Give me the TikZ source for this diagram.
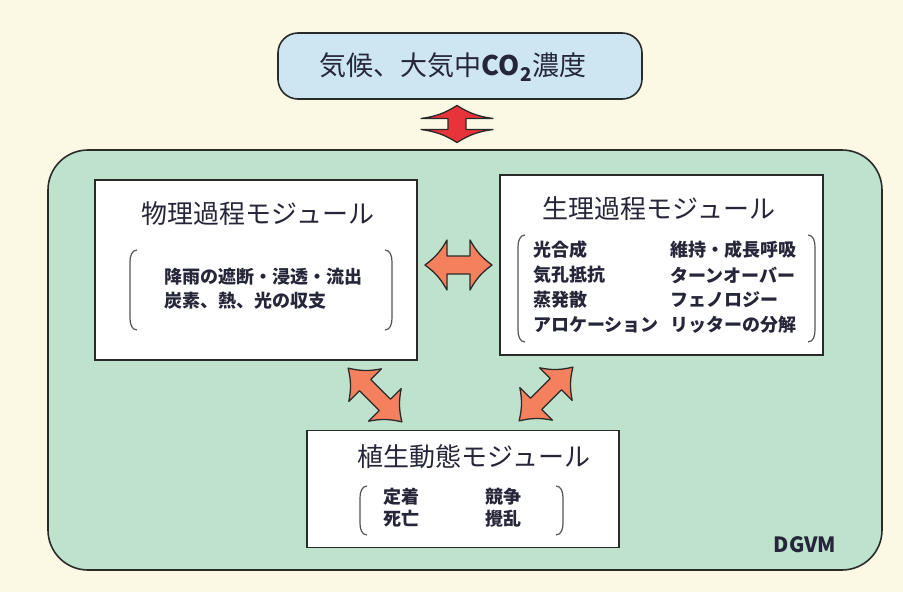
\documentclass[tikz,border=0pt]{standalone}
\usepackage{fontspec}
\newfontfamily\jp{Noto Sans CJK JP}
\usetikzlibrary{calc}
\definecolor{bgc}{HTML}{FBF8E4}
\definecolor{greenc}{HTML}{BEE2CB}
\definecolor{bluec}{HTML}{CDE6F1}
\definecolor{txtc}{HTML}{26263A}
\definecolor{redc}{HTML}{E8333A}
\definecolor{orangec}{HTML}{F5805E}
\definecolor{edgec}{HTML}{2A2A2A}
\newcommand\blockarrow[7]{%
  \begin{scope}[shift={#1},rotate=#2]
    \filldraw[fill=#7,draw=edgec,line width=1.3pt,line join=round]
      (-#3/2,0) to[bend left=12] (-#3/2+#6,#4) -- (-#3/2+#6,#5) -- (#3/2-#6,#5) -- (#3/2-#6,#4)
      to[bend left=12] (#3/2,0) to[bend left=12] (#3/2-#6,-#4) -- (#3/2-#6,-#5) -- (-#3/2+#6,-#5)
      -- (-#3/2+#6,-#4) to[bend left=12] cycle;
  \end{scope}}
\tikzset{
  modbox/.style={draw=edgec,line width=1.8pt,fill=white,inner sep=0pt},
  title/.style={font=\jp\fontsize{26}{30}\selectfont,text=txtc,inner sep=0pt},
  item/.style={font=\jp\bfseries\fontsize{18}{20}\selectfont,text=txtc,inner sep=0pt,anchor=west},
  brk/.style={draw=edgec!80,line width=1.2pt}
}
\newcommand\lbrk[3]{\draw[brk] (#1+7,#2) to[out=180,in=90] (#1,#2+12) -- (#1,#3-12) to[out=-90,in=180] (#1+7,#3);}
\newcommand\rbrk[3]{\draw[brk] (#1-7,#2) to[out=0,in=90] (#1,#2+12) -- (#1,#3-12) to[out=-90,in=0] (#1-7,#3);}
\begin{document}
\begin{tikzpicture}[x=1pt,y=-1pt]
\fill[bgc] (0,0) rectangle (903,592);
\useasboundingbox (0,0) rectangle (903,592);
% outer DGVM box
\node[draw=edgec,line width=1.6pt,fill=greenc,rounded corners=40pt,minimum width=834pt,minimum height=420pt,inner sep=0pt] (dgvm) at (465,360) {};
\node[font=\jp\bfseries\fontsize{21}{24}\selectfont,text=txtc,inner sep=0pt] (dgvmlab) at (805,545) {DGVM};
% top climate box
\node[draw=edgec,line width=1.6pt,fill=bluec,rounded corners=20pt,minimum width=364pt,minimum height=66pt,inner sep=0pt] (clim) at (460,66) {};
\node[font=\jp\fontsize{27}{30}\selectfont,text=txtc,inner sep=0pt] (climlab) at (453,67) {気候、大気中\textbf{CO\textsubscript{2}}濃度};
% modules
\node[modbox,minimum width=322pt,minimum height=180pt] (phys) at (256,270) {};
\node[title] (physt) at (258,214) {物理過程モジュール};
\lbrk{130}{250}{330}
\rbrk{392}{250}{330}
\node[item] (p1) at (164,277) {降雨の遮断・浸透・流出};
\node[item] (p2) at (164,301) {炭素、熱、光の収支};

\node[modbox,minimum width=323pt,minimum height=180pt] (bio) at (661.5,265) {};
\node[title] (biot) at (659,209) {生理過程モジュール};
\lbrk{518}{235}{342}
\rbrk{815}{235}{342}
\node[item] (b1) at (533,250) {光合成};
\node[item] (b2) at (533,275) {気孔抵抗};
\node[item] (b3) at (533,300) {蒸発散};
\node[item] (b4) at (533,325) {アロケーション};
\node[item] (b5) at (670,250) {維持・成長呼吸};
\node[item] (b6) at (670,275) {ターンオーバー};
\node[item] (b7) at (670,300) {フェノロジー};
\node[item] (b8) at (670,325) {リッターの分解};

\node[modbox,minimum width=312pt,minimum height=117pt] (veg) at (463,489) {};
\node[title] (vegt) at (474,457) {植生動態モジュール};
\lbrk{360}{486}{535}
\rbrk{563}{486}{535}
\node[item] (v1) at (383,497) {定着};
\node[item] (v2) at (383,519) {死亡};
\node[item] (v3) at (485,497) {競争};
\node[item] (v4) at (485,519) {攪乱};
% block arrows
\blockarrow{(457,124)}{90}{37}{36}{9}{13}{redc}
\blockarrow{(458.5,265)}{0}{67}{25}{9}{22}{orangec}
\blockarrow{(375,395)}{-45}{76}{23}{8}{24}{orangec}
\blockarrow{(546,394)}{45}{76}{23}{8}{24}{orangec}
\end{tikzpicture}
\end{document}
